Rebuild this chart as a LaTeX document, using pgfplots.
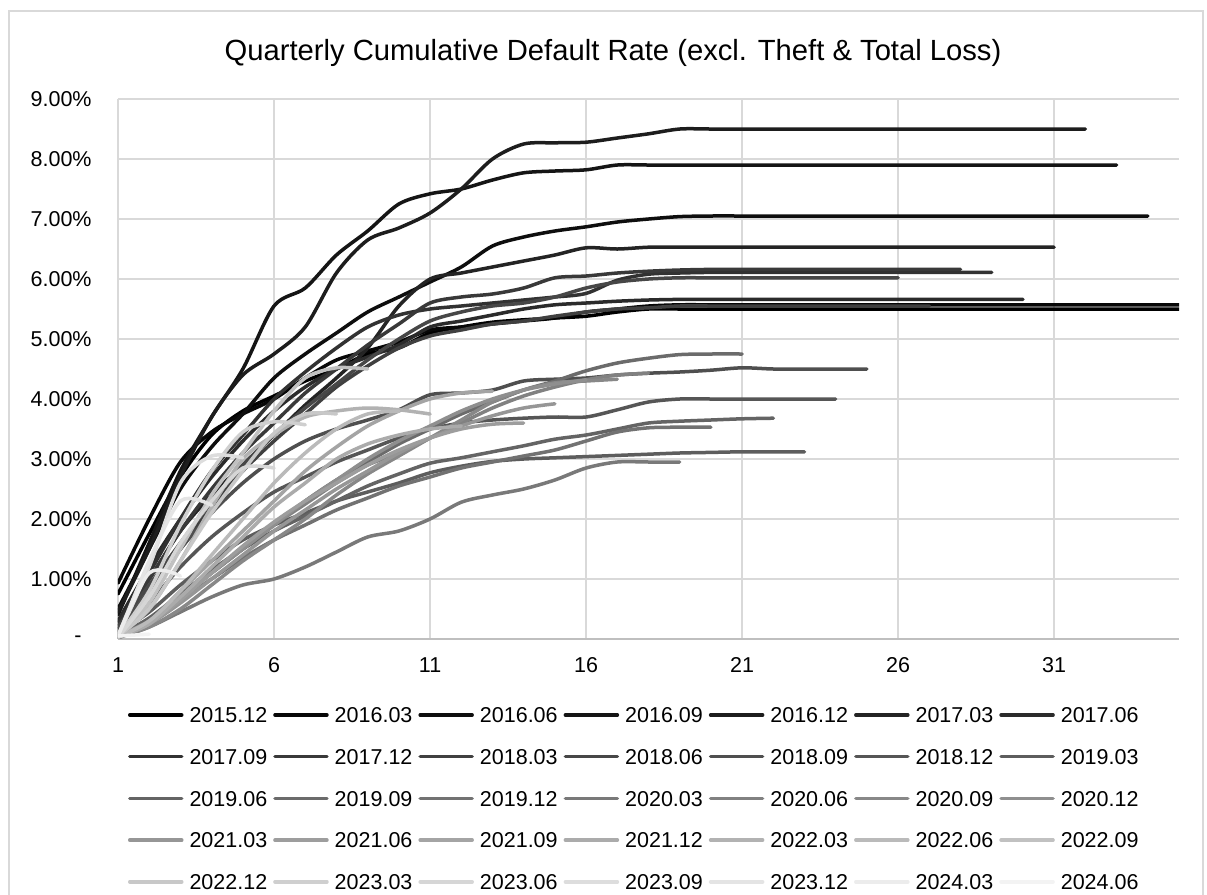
\documentclass[border=0pt]{standalone}
\usepackage{fontspec}
\setmainfont{Liberation Sans}
\usepackage{pgfplots}
\pgfplotsset{compat=1.18}
\definecolor{gridc}{HTML}{D9D9D9}
\definecolor{axc}{HTML}{BFBFBF}
\pgfplotsset{cdr/.style={no marks, smooth, line width=1.75pt, line cap=round, line join=round}}
\begin{document}
\begin{tikzpicture}
\useasboundingbox (0,0) rectangle (603.5pt,447.5pt);
\fill[white] (0,0) rectangle (603.5pt,447.5pt);
\draw[gridc, line width=0.75pt] (4.5pt,-5pt) rectangle (601.5pt,442pt);
\node[font=\fontsize{14.6}{17}\selectfont] at (306.5pt,421pt) {Quarterly Cumulative Default Rate (excl. Theft \& Total Loss)};
\begin{axis}[
  at={(59pt,128pt)}, anchor=south west,
  width=530.5pt, height=270pt, scale only axis,
  xmin=1, xmax=35, ymin=0, ymax=9,
  xtick={1,6,11,16,21,26,31}, xticklabels={1,6,11,16,21,26,31},
  ytick={0,1,2,3,4,5,6,7,8,9},
  yticklabels={-\hspace*{5pt},1.00\%,2.00\%,3.00\%,4.00\%,5.00\%,6.00\%,7.00\%,8.00\%,9.00\%},
  tick label style={font=\fontsize{10.75}{12}\selectfont},
  yticklabel style={anchor=east, inner sep=0pt, xshift=-13pt},
  xticklabel style={anchor=north, inner sep=0pt, yshift=-9pt},
  major tick length=0pt,
  grid=major, major grid style={gridc, line width=0.75pt},
  axis x line*=bottom, axis y line*=left,
  x axis line style={axc, line width=0.75pt},
  y axis line style={gridc, line width=0.75pt},
  legend columns=7,
  legend image code/.code={\draw[#1] (0pt,0pt) -- (26pt,0pt);},
  legend style={at={(0.00943,-0.1265)}, anchor=north west, draw=none, fill=none,
    inner sep=0pt, outer sep=0pt, column sep=3pt, row sep=13.15pt,
    font=\fontsize{10.75}{12}\selectfont,
    nodes={inner sep=0pt, text height=7.7pt, text depth=0pt},
    cells={anchor=west}},
]
\addplot[cdr, black!100] coordinates {(1,0.75)(2,1.75)(3,2.7)(4,3.4)(5,3.8)(6,4.05)(7,4.3)(8,4.5)(9,4.75)(10,4.85)(11,5.1)(12,5.2)(13,5.28)(14,5.32)(15,5.35)(16,5.38)(17,5.45)(18,5.5)(19,5.5)(20,5.5)(21,5.5)(22,5.5)(23,5.5)(24,5.5)(25,5.5)(26,5.5)(27,5.5)(28,5.5)(29,5.5)(30,5.5)(31,5.5)(32,5.5)(33,5.5)(34,5.5)(35,5.5)};
\addlegendentry{2015.12}
\addplot[cdr, black!97.2] coordinates {(1,0.93)(2,2.0)(3,2.95)(4,3.45)(5,3.75)(6,4.0)(7,4.35)(8,4.65)(9,4.8)(10,4.95)(11,5.15)(12,5.2)(13,5.25)(14,5.3)(15,5.35)(16,5.45)(17,5.5)(18,5.55)(19,5.57)(20,5.57)(21,5.57)(22,5.57)(23,5.57)(24,5.57)(25,5.57)(26,5.57)(27,5.57)(28,5.57)(29,5.57)(30,5.57)(31,5.57)(32,5.57)(33,5.57)(34,5.57)(35,5.57)};
\addlegendentry{2016.03}
\addplot[cdr, black!94.4] coordinates {(1,0.5)(2,1.5)(3,2.5)(4,3.2)(5,3.75)(6,4.35)(7,4.75)(8,5.1)(9,5.45)(10,5.7)(11,5.95)(12,6.2)(13,6.55)(14,6.7)(15,6.8)(16,6.87)(17,6.95)(18,7.0)(19,7.04)(20,7.05)(21,7.05)(22,7.05)(23,7.05)(24,7.05)(25,7.05)(26,7.05)(27,7.05)(28,7.05)(29,7.05)(30,7.05)(31,7.05)(32,7.05)(33,7.05)(34,7.05)};
\addlegendentry{2016.06}
\addplot[cdr, black!91.6] coordinates {(1,0.4)(2,1.6)(3,2.8)(4,3.7)(5,4.5)(6,5.55)(7,5.85)(8,6.4)(9,6.8)(10,7.25)(11,7.42)(12,7.5)(13,7.65)(14,7.77)(15,7.8)(16,7.82)(17,7.9)(18,7.9)(19,7.9)(20,7.9)(21,7.9)(22,7.9)(23,7.9)(24,7.9)(25,7.9)(26,7.9)(27,7.9)(28,7.9)(29,7.9)(30,7.9)(31,7.9)(32,7.9)(33,7.9)};
\addlegendentry{2016.09}
\addplot[cdr, black!88.8] coordinates {(1,0.45)(2,1.5)(3,2.7)(4,3.7)(5,4.4)(6,4.75)(7,5.2)(8,6.1)(9,6.65)(10,6.85)(11,7.1)(12,7.5)(13,8.0)(14,8.25)(15,8.27)(16,8.28)(17,8.35)(18,8.42)(19,8.5)(20,8.5)(21,8.5)(22,8.5)(23,8.5)(24,8.5)(25,8.5)(26,8.5)(27,8.5)(28,8.5)(29,8.5)(30,8.5)(31,8.5)(32,8.5)};
\addlegendentry{2016.12}
\addplot[cdr, black!86] coordinates {(1,0.3)(2,1.0)(3,1.8)(4,2.4)(5,2.9)(6,3.4)(7,3.9)(8,4.35)(9,4.85)(10,5.55)(11,6.0)(12,6.1)(13,6.2)(14,6.3)(15,6.4)(16,6.52)(17,6.5)(18,6.53)(19,6.53)(20,6.53)(21,6.53)(22,6.53)(23,6.53)(24,6.53)(25,6.53)(26,6.53)(27,6.53)(28,6.53)(29,6.53)(30,6.53)(31,6.53)};
\addlegendentry{2017.03}
\addplot[cdr, black!83.2] coordinates {(1,0.3)(2,1.2)(3,2.0)(4,2.7)(5,3.3)(6,3.8)(7,4.2)(8,4.5)(9,4.7)(10,4.9)(11,5.2)(12,5.3)(13,5.4)(14,5.5)(15,5.57)(16,5.6)(17,5.63)(18,5.65)(19,5.66)(20,5.66)(21,5.66)(22,5.66)(23,5.66)(24,5.66)(25,5.66)(26,5.66)(27,5.66)(28,5.66)(29,5.66)(30,5.66)};
\addlegendentry{2017.06}
\addplot[cdr, black!80.4] coordinates {(1,0.25)(2,1.1)(3,2.0)(4,2.8)(5,3.4)(6,4.0)(7,4.45)(8,4.85)(9,5.2)(10,5.4)(11,5.5)(12,5.55)(13,5.6)(14,5.65)(15,5.7)(16,5.76)(17,5.98)(18,6.08)(19,6.1)(20,6.11)(21,6.11)(22,6.11)(23,6.11)(24,6.11)(25,6.11)(26,6.11)(27,6.11)(28,6.11)(29,6.11)};
\addlegendentry{2017.09}
\addplot[cdr, black!77.6] coordinates {(1,0.2)(2,1.0)(3,1.8)(4,2.5)(5,3.1)(6,3.6)(7,4.1)(8,4.5)(9,4.9)(10,5.25)(11,5.6)(12,5.7)(13,5.75)(14,5.85)(15,6.02)(16,6.05)(17,6.1)(18,6.13)(19,6.15)(20,6.16)(21,6.16)(22,6.16)(23,6.16)(24,6.16)(25,6.16)(26,6.16)(27,6.16)(28,6.16)};
\addlegendentry{2017.12}
\addplot[cdr, black!74.8] coordinates {(1,0.15)(2,0.8)(3,1.5)(4,2.2)(5,2.8)(6,3.3)(7,3.75)(8,4.2)(9,4.55)(10,4.85)(11,5.05)(12,5.15)(13,5.25)(14,5.3)(15,5.38)(16,5.45)(17,5.5)(18,5.52)(19,5.55)(20,5.55)(21,5.55)(22,5.55)(23,5.55)(24,5.55)(25,5.55)(26,5.55)(27,5.55)};
\addlegendentry{2018.03}
\addplot[cdr, black!72] coordinates {(1,0.2)(2,0.9)(3,1.6)(4,2.3)(5,2.9)(6,3.4)(7,3.85)(8,4.25)(9,4.65)(10,5.0)(11,5.3)(12,5.45)(13,5.55)(14,5.6)(15,5.7)(16,5.85)(17,5.95)(18,6.0)(19,6.02)(20,6.02)(21,6.02)(22,6.02)(23,6.02)(24,6.02)(25,6.02)(26,6.02)};
\addlegendentry{2018.06}
\addplot[cdr, black!69.2] coordinates {(1,0.15)(2,0.8)(3,1.5)(4,2.1)(5,2.6)(6,3.0)(7,3.3)(8,3.5)(9,3.65)(10,3.82)(11,4.07)(12,4.1)(13,4.15)(14,4.3)(15,4.33)(16,4.35)(17,4.4)(18,4.43)(19,4.45)(20,4.48)(21,4.52)(22,4.5)(23,4.5)(24,4.5)(25,4.5)};
\addlegendentry{2018.09}
\addplot[cdr, black!66.4] coordinates {(1,0.1)(2,0.6)(3,1.2)(4,1.7)(5,2.1)(6,2.45)(7,2.7)(8,2.95)(9,3.15)(10,3.35)(11,3.5)(12,3.6)(13,3.65)(14,3.68)(15,3.7)(16,3.7)(17,3.82)(18,3.95)(19,4.0)(20,4.0)(21,4.0)(22,4.0)(23,4.0)(24,4.0)};
\addlegendentry{2018.12}
\addplot[cdr, black!63.6] coordinates {(1,0.1)(2,0.45)(3,0.9)(4,1.3)(5,1.65)(6,1.9)(7,2.1)(8,2.3)(9,2.45)(10,2.6)(11,2.77)(12,2.88)(13,2.96)(14,3.0)(15,3.02)(16,3.04)(17,3.06)(18,3.08)(19,3.1)(20,3.11)(21,3.12)(22,3.12)(23,3.12)};
\addlegendentry{2019.03}
\addplot[cdr, black!60.8] coordinates {(1,0.05)(2,0.35)(3,0.75)(4,1.15)(5,1.5)(6,1.8)(7,2.05)(8,2.3)(9,2.55)(10,2.75)(11,2.93)(12,3.02)(13,3.12)(14,3.22)(15,3.33)(16,3.4)(17,3.5)(18,3.6)(19,3.63)(20,3.65)(21,3.67)(22,3.68)};
\addlegendentry{2019.06}
\addplot[cdr, black!58] coordinates {(1,0.05)(2,0.3)(3,0.7)(4,1.1)(5,1.5)(6,1.9)(7,2.3)(8,2.65)(9,2.95)(10,3.25)(11,3.5)(12,3.75)(13,3.95)(14,4.15)(15,4.3)(16,4.47)(17,4.6)(18,4.68)(19,4.74)(20,4.75)(21,4.75)};
\addlegendentry{2019.09}
\addplot[cdr, black!55.2] coordinates {(1,0.05)(2,0.3)(3,0.65)(4,1.0)(5,1.35)(6,1.65)(7,1.9)(8,2.15)(9,2.35)(10,2.55)(11,2.7)(12,2.85)(13,2.95)(14,3.05)(15,3.15)(16,3.3)(17,3.45)(18,3.52)(19,3.53)(20,3.53)};
\addlegendentry{2019.12}
\addplot[cdr, black!52.4] coordinates {(1,0.02)(2,0.2)(3,0.45)(4,0.7)(5,0.9)(6,1.0)(7,1.2)(8,1.45)(9,1.7)(10,1.8)(11,2.0)(12,2.28)(13,2.4)(14,2.5)(15,2.65)(16,2.85)(17,2.95)(18,2.95)(19,2.95)};
\addlegendentry{2020.03}
\addplot[cdr, black!49.6] coordinates {(1,0.05)(2,0.3)(3,0.7)(4,1.1)(5,1.5)(6,1.9)(7,2.25)(8,2.6)(9,2.9)(10,3.1)(11,3.35)(12,3.6)(13,3.85)(14,4.05)(15,4.2)(16,4.32)(17,4.4)(18,4.43)};
\addlegendentry{2020.06}
\addplot[cdr, black!46.8] coordinates {(1,0.03)(2,0.2)(3,0.5)(4,0.9)(5,1.3)(6,1.65)(7,2.0)(8,2.4)(9,2.75)(10,3.05)(11,3.35)(12,3.65)(13,3.95)(14,4.15)(15,4.27)(16,4.3)(17,4.33)};
\addlegendentry{2020.09}
\addplot[cdr, black!44] coordinates {(1,0.03)(2,0.3)(3,0.7)(4,1.1)(5,1.5)(6,1.9)(7,2.3)(8,2.65)(9,3.0)(10,3.3)(11,3.55)(12,3.8)(13,4.0)(14,4.15)(15,4.25)(16,4.32)};
\addlegendentry{2020.12}
\addplot[cdr, black!41.2] coordinates {(1,0.03)(2,0.25)(3,0.6)(4,1.0)(5,1.4)(6,1.8)(7,2.15)(8,2.5)(9,2.8)(10,3.1)(11,3.35)(12,3.55)(13,3.72)(14,3.85)(15,3.92)};
\addlegendentry{2021.03}
\addplot[cdr, black!38.4] coordinates {(1,0.03)(2,0.25)(3,0.65)(4,1.1)(5,1.55)(6,1.95)(7,2.3)(8,2.6)(9,2.9)(10,3.15)(11,3.35)(12,3.5)(13,3.58)(14,3.6)};
\addlegendentry{2021.06}
\addplot[cdr, black!35.6] coordinates {(1,0.05)(2,0.3)(3,0.8)(4,1.3)(5,1.8)(6,2.3)(7,2.8)(8,3.2)(9,3.55)(10,3.8)(11,4.0)(12,4.1)(13,4.13)};
\addlegendentry{2021.09}
\addplot[cdr, black!32.8] coordinates {(1,0.03)(2,0.25)(3,0.7)(4,1.2)(5,1.7)(6,2.2)(7,2.6)(8,3.0)(9,3.25)(10,3.4)(11,3.5)(12,3.55)};
\addlegendentry{2021.12}
\addplot[cdr, black!30] coordinates {(1,0.05)(2,0.5)(3,1.3)(4,2.2)(5,3.0)(6,3.4)(7,3.7)(8,3.8)(9,3.85)(10,3.82)(11,3.75)};
\addlegendentry{2022.03}
\addplot[cdr, black!27.2] coordinates {(1,0.03)(2,0.3)(3,0.8)(4,1.4)(5,2.0)(6,2.6)(7,3.1)(8,3.5)(9,3.75)(10,3.8)};
\addlegendentry{2022.06}
\addplot[cdr, black!24.4] coordinates {(1,0.05)(2,0.6)(3,1.5)(4,2.4)(5,3.1)(6,3.8)(7,4.35)(8,4.52)(9,4.5)};
\addlegendentry{2022.09}
\addplot[cdr, black!21.6] coordinates {(1,0.05)(2,0.5)(3,1.3)(4,2.1)(5,2.8)(6,3.43)(7,3.75)(8,3.75)};
\addlegendentry{2022.12}
\addplot[cdr, black!18.8] coordinates {(1,0.05)(2,0.8)(3,1.9)(4,2.8)(5,3.45)(6,3.62)(7,3.57)};
\addlegendentry{2023.03}
\addplot[cdr, black!16] coordinates {(1,0.03)(2,0.7)(3,1.6)(4,2.3)(5,2.85)(6,2.85)};
\addlegendentry{2023.06}
\addplot[cdr, black!13.2] coordinates {(1,0.05)(2,1.2)(3,2.6)(4,3.05)(5,3.02)};
\addlegendentry{2023.09}
\addplot[cdr, black!10.4] coordinates {(1,0.05)(2,1.3)(3,2.3)(4,2.23)};
\addlegendentry{2023.12}
\addplot[cdr, black!7.6] coordinates {(1,0.05)(2,1.1)(3,1.05)};
\addlegendentry{2024.03}
\addplot[cdr, black!4.8] coordinates {(1,0.05)(2,0.08)};
\addlegendentry{2024.06}
\end{axis}
\end{tikzpicture}
\end{document}
